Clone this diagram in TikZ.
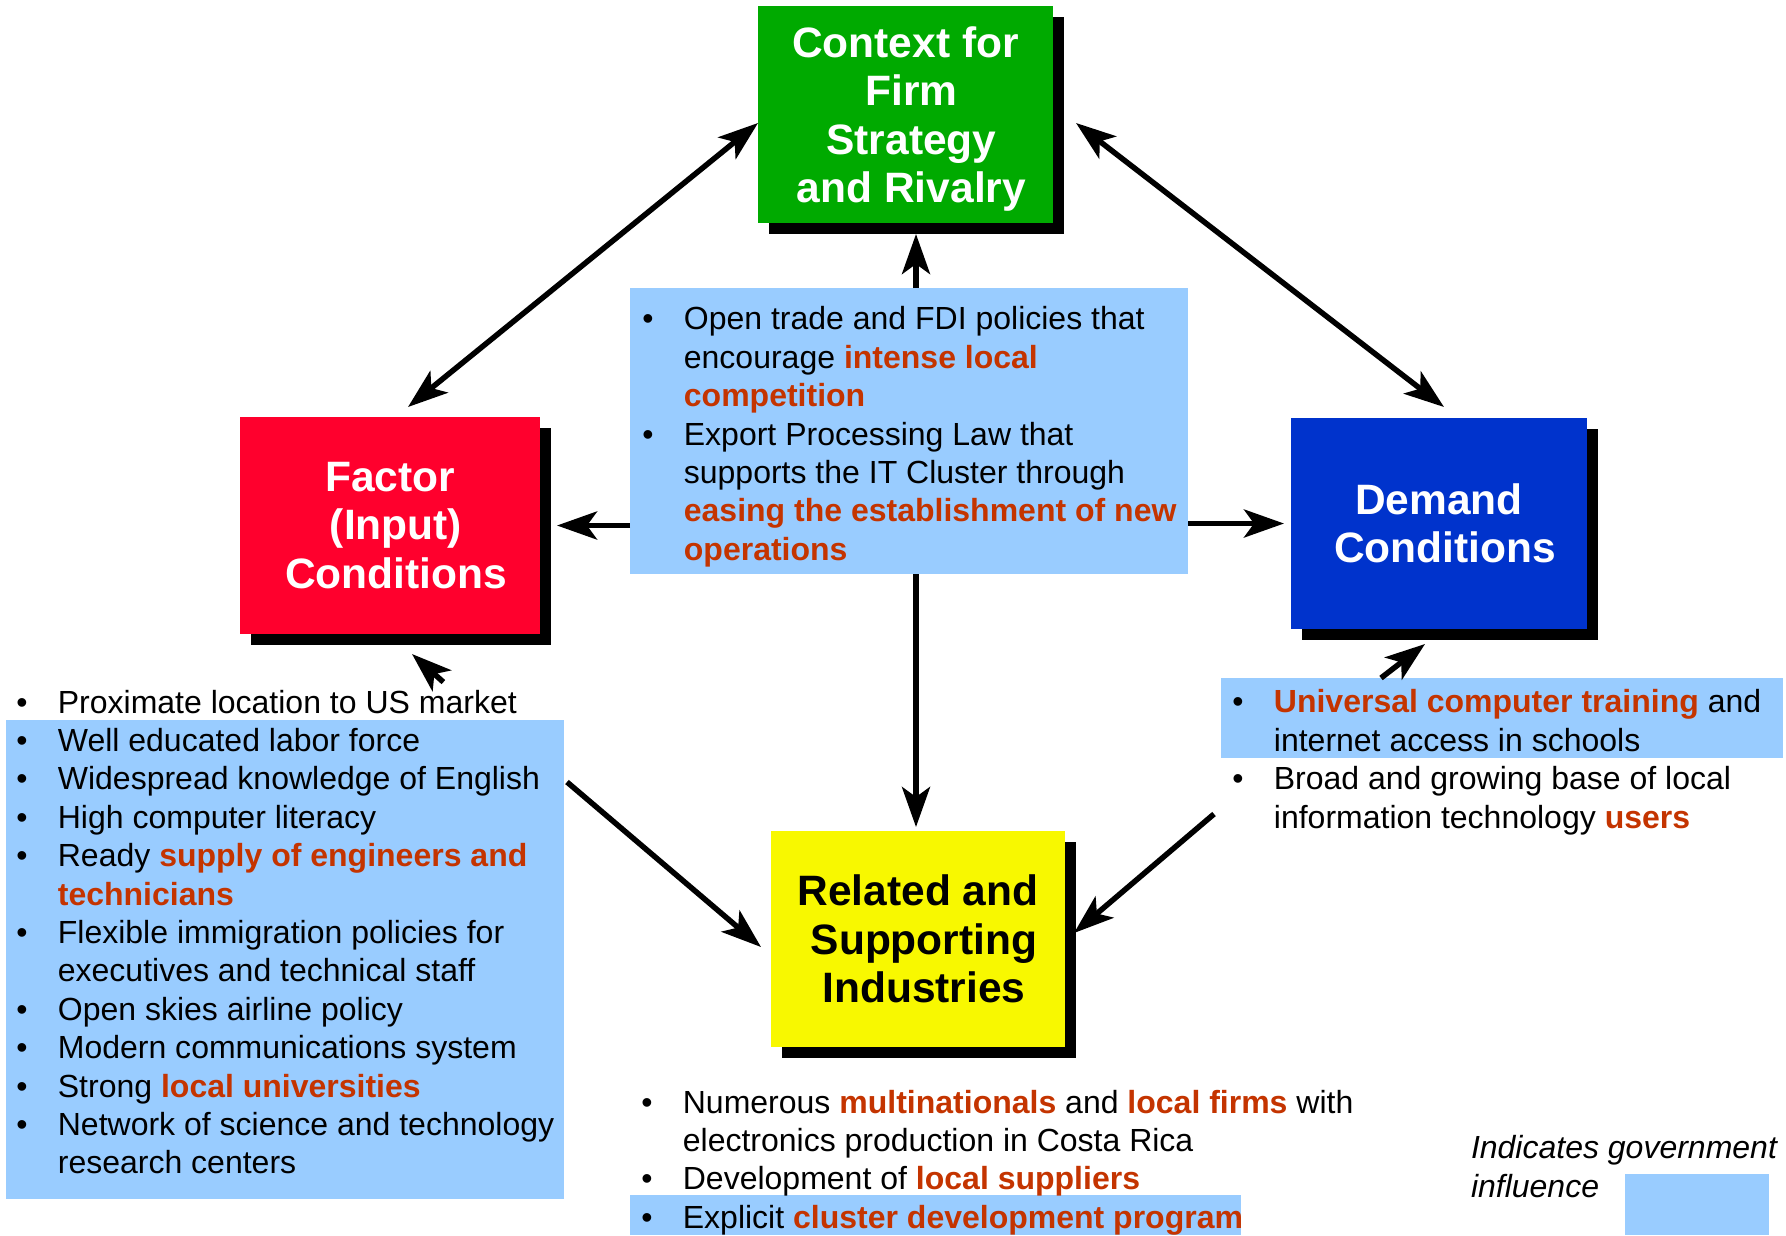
\documentclass[tikz,border=0pt]{standalone}
\usepackage{fontspec}
\setmainfont{Liberation Sans}
\usetikzlibrary{arrows.meta,shadows,calc,fit}

\definecolor{ctxgreen}{RGB}{0,170,0}
\definecolor{facred}{RGB}{255,0,45}
\definecolor{demblue}{RGB}{0,51,204}
\definecolor{relyellow}{RGB}{248,248,0}
\definecolor{govblue}{RGB}{153,204,255}
\definecolor{hotred}{RGB}{196,52,0}

\newcommand{\bul}{\makebox[16.6pt][l]{\textbullet}}
\newcommand{\ind}{\hspace*{16.6pt}}
\newcommand{\hot}[1]{\textbf{\color{hotred}#1}}
\newcommand{\nudge}{\hspace*{4.8pt}}

\tikzset{
  cond/.style={inner sep=0pt, outer sep=0pt, minimum width=118pt, minimum height=86.8pt,
    align=center, font=\bfseries\fontsize{17}{19.4}\selectfont,
    drop shadow={shadow xshift=4.4pt, shadow yshift=-4.2pt, fill=black, opacity=1}},
  gov/.style={fill=govblue, inner sep=0pt, outer sep=0pt},
  txt/.style={inner sep=0pt, outer sep=0pt, anchor=north west, align=left,
    font=\fontsize{12.8}{15.36}\selectfont},
  link/.style={line width=2.2pt}
}

\begin{document}
\begin{tikzpicture}[x=0.4pt,y=-0.4pt,>={Stealth[length=16pt,width=11.2pt,inset=4pt]}]
  \useasboundingbox (0,0) rectangle (1786,1235);
  % government influence
  \node[gov, fit={(630,288) (1188,574)}] (cen) {};
  \node[gov, fit={(6,720) (564,1199)}] (facbg) {};
  \node[gov, fit={(1221,678) (1783,758)}] (dembg) {};
  \node[gov, fit={(630,1195) (1241,1235)}] (relbg) {};
  \node[gov, fit={(1625,1174) (1769,1235)}] (key) {};

  \node[cond, fill=ctxgreen, text=white] (ctx) at (905.5,114.5) {\rule{0pt}{16pt}Context for\\\nudge Firm\\\nudge Strategy\\\nudge and Rivalry};
  \node[cond, fill=facred, text=white, minimum width=120pt] (fac) at (390,525.5) {Factor\\\nudge(Input)\\\nudge Conditions};
  \node[cond, fill=demblue, text=white, minimum width=118.4pt, minimum height=84.4pt] (dem) at (1439,523.5) {Demand\\\nudge Conditions};
  \node[cond, fill=relyellow, minimum width=117.6pt, minimum height=86.4pt] (rel) at (918,939) {Related and\\\nudge Supporting\\\nudge Industries};

  \node[txt] (centxt) at (642.4,303.1) {\strut\bul Open trade and FDI policies that\\
    \ind encourage \hot{intense local}\\ \ind\hot{competition}\\
    \bul Export Processing Law that\\ \ind supports the IT Cluster through\\
    \ind\hot{easing the establishment of new}\\ \ind\hot{operations}};
  \node[txt] (factxt) at (16.4,686.1) {\strut\bul Proximate location to US market\\
    \bul Well educated labor force\\ \bul Widespread knowledge of English\\
    \bul High computer literacy\\ \bul Ready \hot{supply of engineers and}\\ \ind\hot{technicians}\\
    \bul Flexible immigration policies for\\ \ind executives and technical staff\\
    \bul Open skies airline policy\\ \bul Modern communications system\\
    \bul Strong \hot{local universities}\\ \bul Network of science and technology\\ \ind research centers};
  \node[txt] (demtxt) at (1232.4,686.1) {\strut\bul\hot{Universal computer training} and\\
    \ind internet access in schools\\ \bul Broad and growing base of local\\
    \ind information technology \hot{users}};
  \node[txt] (reltxt) at (641.4,1086.1) {\strut\bul Numerous \hot{multinationals} and \hot{local firms} with\\
    \ind electronics production in Costa Rica\\ \bul Development of \hot{local suppliers}\\
    \bul Explicit \hot{cluster development program}};
  \node[txt, font=\itshape\fontsize{12.8}{15.36}\selectfont] (keytxt) at (1471,1132) {\strut Indicates government\\influence};

  \coordinate (relin) at (1214,814);
  \draw[link,<->] ($(ctx.west)+(0,8.5)$) -- ($(fac.north)+(18,-10)$);
  \draw[link,<->] ($(ctx.east)+(23,8.5)$) -- ($(dem.north)+(5,-11)$);
  \draw[link,->] ($(cen.north)+(7,0)$) -- ($(ctx.south)+(10.5,11)$);
  \draw[link,->] (cen.west |- fac.east) -- ($(fac.east)+(17,0)$);
  \draw[link,->] (cen.east |- dem.west) -- ($(dem.west)+(-7,0)$);
  \draw[link,->] ($(cen.south)+(7,0)$) -- ($(rel.north)+(-2,-4)$);
  \draw[link,->] ($(facbg.north east)+(3,62)$) -- ($(rel.west)+(-10,8)$);
  \draw[link,->] (relin) -- ($(rel.east)+(9,-6)$);
  \draw[link,->] ($(factxt.north west)+(427,-4)$) -- ($(fac.south)+(22,20)$);
  \draw[link,->] ($(dembg.north west)+(160,0)$) -- ($(dem.south)+(-14,15)$);
\end{tikzpicture}
\end{document}
